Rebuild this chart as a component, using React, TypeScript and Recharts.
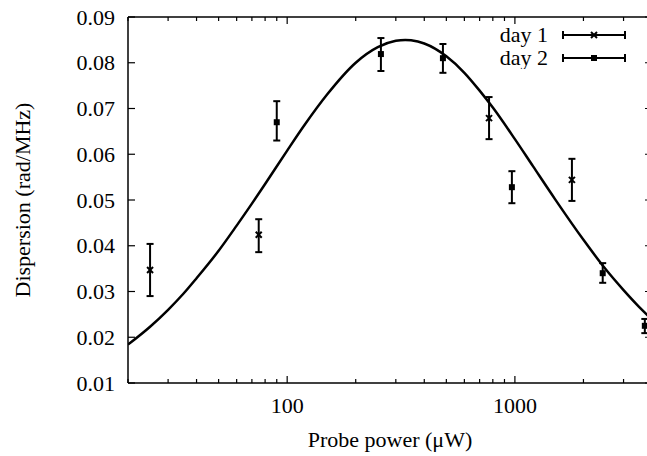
import React from 'react';
import { ComposedChart, Line, Scatter, XAxis, YAxis, ErrorBar, ReferenceLine, Legend } from 'recharts';

// fit curve
const fitPower = [20, 25, 30, 35, 40, 50, 60, 70, 80, 100, 120, 150, 200, 250, 300, 330, 350, 400, 500, 600, 700, 800, 1000, 1200, 1500, 2000, 2500, 3000, 3500, 4000];
const fitDispersion = [0.0184, 0.0223, 0.026, 0.0295, 0.0329, 0.0389, 0.0444, 0.0492, 0.0535, 0.0608, 0.0666, 0.0731, 0.08, 0.0834, 0.0848, 0.085, 0.0849, 0.0842, 0.0814, 0.0778, 0.0739, 0.0702, 0.0633, 0.0574, 0.0502, 0.0413, 0.0349, 0.0303, 0.0267, 0.0239];

// day 1 (crosses)
const day1Power = [25, 75, 770, 1780];
const day1Value = [0.0347, 0.0424, 0.0679, 0.0544];
const day1Low = [0.029, 0.0386, 0.0633, 0.0498];
const day1High = [0.0404, 0.0458, 0.0725, 0.059];

// day 2 (squares)
const day2Power = [90, 258, 483, 970, 2430, 3720];
const day2Value = [0.067, 0.0819, 0.081, 0.0528, 0.034, 0.0225];
const day2Low = [0.063, 0.0782, 0.0778, 0.0493, 0.0319, 0.0209];
const day2High = [0.0716, 0.0854, 0.0841, 0.0563, 0.0362, 0.024];

const xTicks = [20, 30, 40, 50, 60, 70, 80, 90, 100, 200, 300, 400, 500, 600, 700, 800, 900, 1000, 2000, 3000, 4000];
const xLabels = [100, 1000];
const yTicks = [0.01, 0.02, 0.03, 0.04, 0.05, 0.06, 0.07, 0.08, 0.09];

const fitData = fitPower.map((x, i) => ({ x, y: fitDispersion[i] }));
const day1Data = day1Power.map((x, i) => ({ x, y: day1Value[i], err: [day1Value[i] - day1Low[i], day1High[i] - day1Value[i]] }));
const day2Data = day2Power.map((x, i) => ({ x, y: day2Value[i], err: [day2Value[i] - day2Low[i], day2High[i] - day2Value[i]] }));

const W = 660;
const H = 456;
const TOP = 17;
const LEFT = 128;
const RIGHT = 652;
const BOTTOM = 383;
const FONT = "'Liberation Serif', 'DejaVu Serif', serif";

const XTick = (props: any) => {
  const { x, y, payload } = props;
  const v = payload.value;
  const major = xLabels.includes(v);
  const len = major ? 7 : 4;
  return (
    <g>
      <line x1={x} x2={x} y1={BOTTOM} y2={BOTTOM - len} stroke="#000" strokeWidth={1.2} />
      <line x1={x} x2={x} y1={TOP} y2={TOP + len} stroke="#000" strokeWidth={1.2} />
      {major && (
        <text x={x} y={y} dy="0.71em" textAnchor="middle" fontFamily={FONT} fontSize={22} fill="#000">
          {v}
        </text>
      )}
    </g>
  );
};

const YTick = (props: any) => {
  const { x, y, payload } = props;
  return (
    <g>
      <line x1={LEFT} x2={LEFT + 7} y1={y} y2={y} stroke="#000" strokeWidth={1.2} />
      <line x1={RIGHT} x2={RIGHT - 7} y1={y} y2={y} stroke="#000" strokeWidth={1.2} />
      <text x={x} y={y} dy="0.35em" textAnchor="end" fontFamily={FONT} fontSize={22} fill="#000">
        {payload.value.toFixed(2)}
      </text>
    </g>
  );
};

const Cross = ({ cx, cy }: any) => (
  <g stroke="#000" strokeWidth={2}>
    <line x1={cx - 3} y1={cy - 3} x2={cx + 3} y2={cy + 3} />
    <line x1={cx - 3} y1={cy + 3} x2={cx + 3} y2={cy - 3} />
  </g>
);

const Square = ({ cx, cy }: any) => <rect x={cx - 3} y={cy - 3} width={6} height={6} fill="#000" />;

const LegendBox = () => {
  const rows = [
    { name: 'day 1', Mark: Cross },
    { name: 'day 2', Mark: Square },
  ];
  return (
    <svg width={170} height={52}>
      {rows.map((r, i) => {
        const cy = 18 + i * 23;
        return (
          <g key={r.name}>
            <text x={78} y={cy} dy="0.33em" textAnchor="end" fontFamily={FONT} fontSize={22} fill="#000">
              {r.name}
            </text>
            <g stroke="#000" strokeWidth={2}>
              <line x1={93} x2={155} y1={cy} y2={cy} />
              <line x1={93} x2={93} y1={cy - 4} y2={cy + 4} />
              <line x1={155} x2={155} y1={cy - 4} y2={cy + 4} />
            </g>
            <r.Mark cx={124} cy={cy} />
          </g>
        );
      })}
    </svg>
  );
};

const YLabel = ({ viewBox }: any) => {
  const cx = 22;
  const cy = viewBox.y + viewBox.height / 2;
  return (
    <text x={cx} y={cy} transform={`rotate(-90 ${cx} ${cy})`} dy="0.35em" textAnchor="middle" fontFamily={FONT} fontSize={22} fill="#000">
      Dispersion (rad/MHz)
    </text>
  );
};

export default function App() {
  return (
    <div style={{ position: 'absolute', left: 0, top: 0, width: 647, height: H, overflow: 'hidden', background: '#fff' }}>
      <ComposedChart width={W} height={H} margin={{ top: TOP, right: W - RIGHT, bottom: 0, left: 0 }}>
        <XAxis
          dataKey="x"
          type="number"
          scale="log"
          domain={[20, 4000]}
          allowDataOverflow
          ticks={xTicks}
          interval={0}
          height={H - BOTTOM}
          tickLine={false}
          tickSize={0}
          tickMargin={14}
          tick={<XTick />}
          axisLine={{ stroke: '#000', strokeWidth: 1.5 }}
          label={{ value: 'Probe power (\u03bcW)', position: 'insideBottom', offset: 9, style: { fontFamily: FONT, fontSize: 22, fill: '#000' } }}
        />
        <YAxis
          type="number"
          domain={[0.01, 0.09]}
          allowDataOverflow
          ticks={yTicks}
          interval={0}
          width={LEFT}
          tickLine={false}
          tickSize={0}
          tickMargin={13}
          tick={<YTick />}
          axisLine={{ stroke: '#000', strokeWidth: 1.5 }}
          label={<YLabel />}
        />
        <ReferenceLine y={0.09} stroke="#000" strokeWidth={1.5} />
        <ReferenceLine x={4000} stroke="#000" strokeWidth={1.5} />
        <Legend
          layout="horizontal"
          verticalAlign="middle"
          align="center"
          content={<LegendBox />}
          wrapperStyle={{ position: 'absolute', left: 470, top: 17, width: 170, height: 52 }}
        />
        <Line
          data={fitData}
          dataKey="y"
          type="monotone"
          stroke="#000"
          strokeWidth={2.5}
          dot={false}
          legendType="none"
          isAnimationActive={false}
        />
        <Scatter name="day 1" data={day1Data} dataKey="y" shape={<Cross />} isAnimationActive={false}>
          <ErrorBar dataKey="err" direction="y" width={3.5} stroke="#000" strokeWidth={2} />
        </Scatter>
        <Scatter name="day 2" data={day2Data} dataKey="y" shape={<Square />} isAnimationActive={false}>
          <ErrorBar dataKey="err" direction="y" width={3.5} stroke="#000" strokeWidth={2} />
        </Scatter>
      </ComposedChart>
    </div>
  );
}
